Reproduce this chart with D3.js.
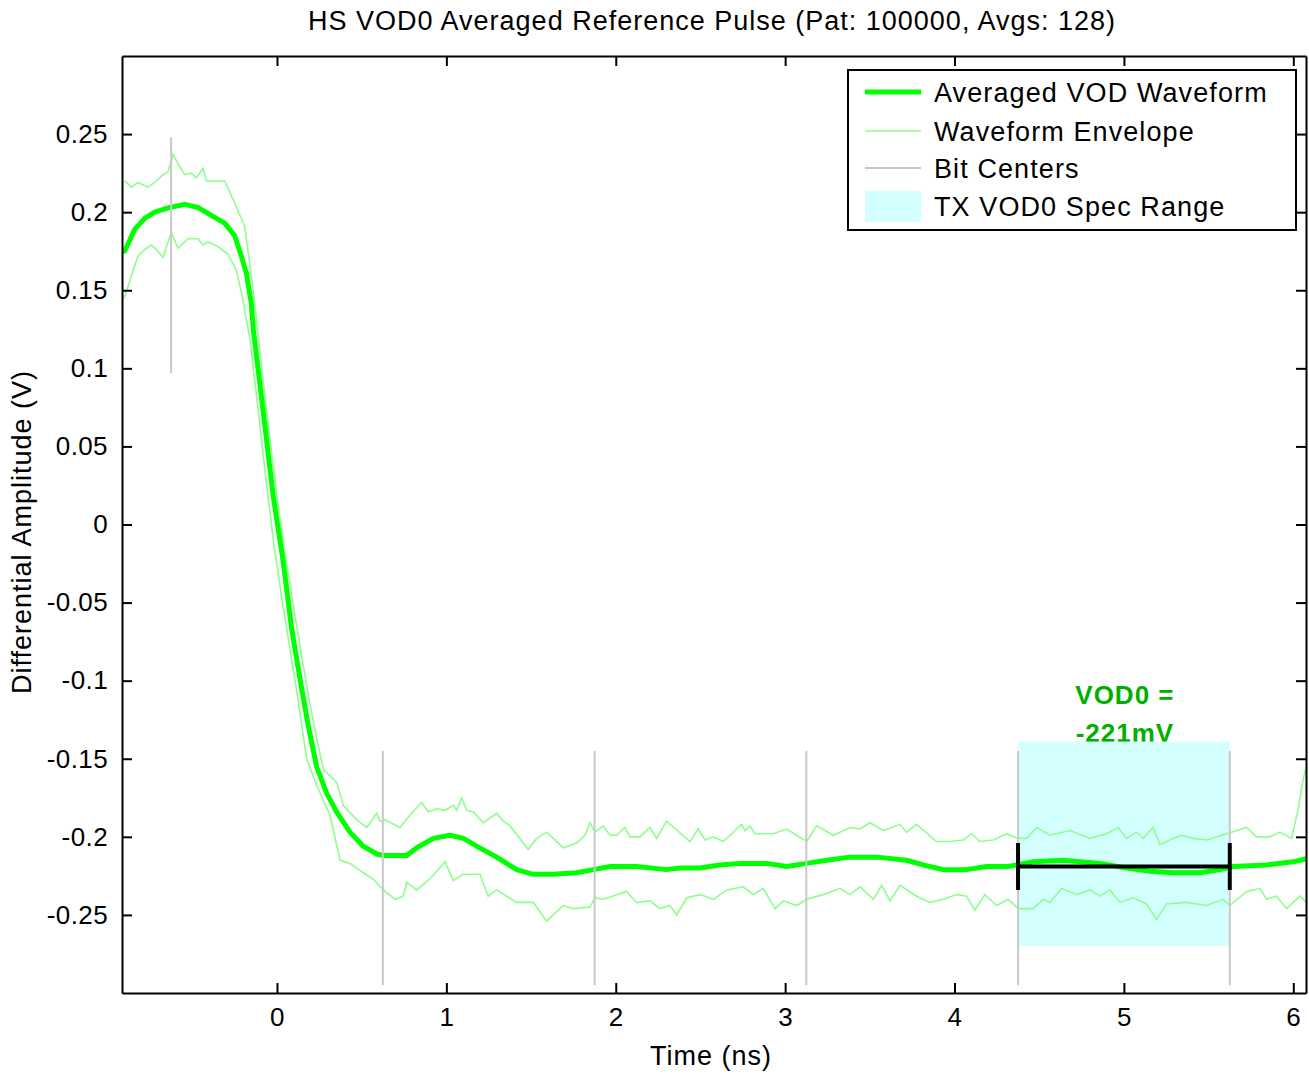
<!DOCTYPE html>
<html>
<head>
<meta charset="utf-8">
<script src="https://cdn.jsdelivr.net/npm/d3@7"></script>
<style>
body { margin: 0; background: #fff; }
text { font-family: "Liberation Sans", Arial, sans-serif; fill: #000; }
</style>
</head>
<body>
<script>
var width = 1309, height = 1076;
var margin = {top: 56, right: 3, bottom: 83, left: 122};

// averaged waveform [time ns, volts]
var avgWave = [[-0.915,0.175],[-0.899,0.175],[-0.840,0.189],[-0.781,0.196],[-0.722,0.200],[-0.633,0.203],
[-0.545,0.205],[-0.466,0.203],[-0.388,0.198],[-0.309,0.193],[-0.250,0.185],[-0.211,0.172],[-0.181,0.161],
[-0.152,0.142],[-0.140,0.125],[-0.081,0.072],[-0.022,0.018],[0.037,-0.024],[0.087,-0.067],[0.136,-0.099],
[0.185,-0.129],[0.234,-0.155],[0.293,-0.172],[0.352,-0.184],[0.431,-0.197],[0.509,-0.206],[0.589,-0.211],
[0.627,-0.212],[0.766,-0.212],[0.825,-0.207],[0.923,-0.201],[1.021,-0.199],[1.100,-0.201],[1.179,-0.206],
[1.297,-0.213],[1.415,-0.221],[1.513,-0.224],[1.631,-0.224],[1.769,-0.223],[1.867,-0.221],[1.966,-0.219],
[2.123,-0.219],[2.300,-0.221],[2.379,-0.220],[2.497,-0.220],[2.615,-0.218],[2.733,-0.217],[2.891,-0.217],
[3.009,-0.219],[3.127,-0.217],[3.245,-0.215],[3.383,-0.213],[3.540,-0.213],[3.717,-0.215],[3.815,-0.218],
[3.933,-0.221],[4.071,-0.221],[4.189,-0.219],[4.317,-0.219],[4.465,-0.216],[4.642,-0.215],[4.858,-0.217],
[5.016,-0.220],[5.154,-0.222],[5.291,-0.223],[5.449,-0.223],[5.567,-0.221],[5.645,-0.219],[5.842,-0.218],
[5.999,-0.216],[6.079,-0.214]];

var envUpper = [[-0.899,0.220],[-0.860,0.216],[-0.821,0.219],[-0.762,0.216],[-0.722,0.219],[-0.683,0.223],
[-0.643,0.226],[-0.614,0.237],[-0.584,0.231],[-0.545,0.224],[-0.506,0.225],[-0.476,0.222],[-0.437,0.228],
[-0.417,0.220],[-0.309,0.220],[-0.250,0.206],[-0.191,0.191],[-0.161,0.167],[-0.132,0.142],[-0.089,0.099],
[-0.041,0.054],[0.006,0.013],[0.053,-0.022],[0.100,-0.054],[0.148,-0.086],[0.195,-0.115],[0.234,-0.137],
[0.274,-0.157],[0.352,-0.165],[0.392,-0.180],[0.470,-0.189],[0.530,-0.194],[0.589,-0.185],[0.608,-0.190],
[0.638,-0.189],[0.726,-0.194],[0.785,-0.186],[0.854,-0.178],[0.893,-0.184],[0.943,-0.182],[0.992,-0.183],
[1.041,-0.180],[1.061,-0.183],[1.090,-0.175],[1.120,-0.183],[1.159,-0.184],[1.218,-0.191],[1.297,-0.185],
[1.336,-0.190],[1.375,-0.193],[1.434,-0.201],[1.483,-0.208],[1.533,-0.201],[1.592,-0.197],[1.631,-0.201],
[1.690,-0.207],[1.769,-0.204],[1.818,-0.199],[1.848,-0.191],[1.877,-0.197],[1.926,-0.193],[1.966,-0.199],
[2.005,-0.199],[2.054,-0.194],[2.084,-0.200],[2.143,-0.200],[2.202,-0.194],[2.241,-0.201],[2.300,-0.190],
[2.438,-0.203],[2.487,-0.195],[2.527,-0.202],[2.576,-0.200],[2.635,-0.203],[2.684,-0.198],[2.743,-0.192],
[2.763,-0.196],[2.792,-0.193],[2.822,-0.198],[2.930,-0.198],[3.009,-0.195],[3.068,-0.199],[3.127,-0.203],
[3.186,-0.193],[3.284,-0.199],[3.383,-0.194],[3.442,-0.195],[3.501,-0.191],[3.580,-0.196],[3.678,-0.192],
[3.717,-0.197],[3.776,-0.192],[3.894,-0.203],[3.973,-0.203],[4.051,-0.202],[4.101,-0.198],[4.150,-0.203],
[4.228,-0.202],[4.308,-0.198],[4.376,-0.201],[4.426,-0.201],[4.485,-0.194],[4.563,-0.199],[4.681,-0.196],
[4.799,-0.201],[4.898,-0.198],[4.966,-0.194],[5.016,-0.201],[5.075,-0.197],[5.114,-0.201],[5.173,-0.194],
[5.213,-0.205],[5.291,-0.201],[5.341,-0.199],[5.409,-0.201],[5.488,-0.202],[5.606,-0.198],[5.724,-0.194],
[5.783,-0.200],[5.862,-0.200],[5.921,-0.197],[5.990,-0.201],[6.029,-0.182],[6.058,-0.163],[6.088,-0.150]];

var envLower = [[-0.915,0.144],[-0.899,0.146],[-0.860,0.159],[-0.821,0.172],[-0.781,0.176],[-0.742,0.179],
[-0.712,0.176],[-0.673,0.171],[-0.624,0.187],[-0.584,0.177],[-0.525,0.183],[-0.466,0.183],[-0.437,0.179],
[-0.407,0.181],[-0.348,0.178],[-0.289,0.173],[-0.240,0.163],[-0.201,0.144],[-0.159,0.118],[-0.112,0.074],
[-0.065,0.029],[-0.018,-0.013],[0.030,-0.048],[0.077,-0.080],[0.124,-0.112],[0.175,-0.150],[0.234,-0.167],
[0.313,-0.186],[0.372,-0.215],[0.431,-0.217],[0.509,-0.223],[0.568,-0.227],[0.628,-0.234],[0.697,-0.240],
[0.746,-0.238],[0.766,-0.229],[0.825,-0.234],[0.903,-0.227],[0.992,-0.216],[1.041,-0.228],[1.100,-0.224],
[1.198,-0.224],[1.247,-0.238],[1.297,-0.234],[1.415,-0.242],[1.513,-0.242],[1.592,-0.254],[1.690,-0.244],
[1.749,-0.246],[1.848,-0.245],[1.877,-0.239],[1.926,-0.240],[2.064,-0.235],[2.123,-0.242],[2.202,-0.241],
[2.261,-0.246],[2.320,-0.244],[2.360,-0.250],[2.419,-0.239],[2.497,-0.237],[2.576,-0.240],[2.655,-0.234],
[2.753,-0.232],[2.812,-0.237],[2.871,-0.233],[2.940,-0.246],[2.989,-0.241],[3.068,-0.244],[3.127,-0.240],
[3.225,-0.237],[3.324,-0.233],[3.383,-0.237],[3.442,-0.232],[3.521,-0.240],[3.570,-0.231],[3.619,-0.241],
[3.678,-0.231],[3.776,-0.238],[3.855,-0.242],[3.933,-0.240],[4.012,-0.237],[4.071,-0.238],[4.120,-0.247],
[4.179,-0.237],[4.249,-0.244],[4.317,-0.240],[4.376,-0.246],[4.465,-0.246],[4.524,-0.240],[4.563,-0.242],
[4.632,-0.233],[4.721,-0.237],[4.799,-0.234],[4.858,-0.238],[4.917,-0.234],[4.976,-0.242],[5.055,-0.239],
[5.134,-0.243],[5.193,-0.253],[5.252,-0.243],[5.370,-0.242],[5.488,-0.244],[5.586,-0.240],[5.626,-0.244],
[5.724,-0.235],[5.803,-0.233],[5.842,-0.240],[5.901,-0.238],[5.960,-0.246],[6.039,-0.238],[6.079,-0.242]];

// bit centre markers [time, low, high]
var bitCenters = [[-0.625,0.097,0.248],[0.625,-0.295,-0.145],[1.875,-0.295,-0.145],
[3.125,-0.295,-0.145],[4.375,-0.295,-0.145],[5.625,-0.295,-0.145]];

var specRange = {t0: 4.375, t1: 5.625, vLow: -0.270, vHigh: -0.139};
var vodBar = {t0: 4.375, t1: 5.625, v: -0.219, cap: 0.015};
var vodLabel = ["VOD0 =", "-221mV"];

var xTicks = [0, 1, 2, 3, 4, 5, 6];
var xTickLabels = ["0", "1", "2", "3", "4", "5", "6"];
var yTicks = [0.25, 0.2, 0.15, 0.1, 0.05, 0, -0.05, -0.1, -0.15, -0.2, -0.25];
var yTickLabels = ["0.25", "0.2", "0.15", "0.1", "0.05", "0", "-0.05", "-0.1", "-0.15", "-0.2", "-0.25"];

var legendNames = ["Averaged VOD Waveform", "Waveform Envelope", "Bit Centers", "TX VOD0 Spec Range"];

var colMain = "#00ff00", colEnv = "#8cff8c", colBit = "#c8c8c8", colSpec = "#d4ffff", colLabel = "#00b000";

var w = width - margin.left - margin.right;
var h = height - margin.top - margin.bottom;

var svg = d3.select("body").append("svg")
.attr("width", width)
.attr("height", height);

var xScale = d3.scaleLinear().domain([-0.915, 6.075]).range([0, w]);
var yScale = d3.scaleLinear().domain([-0.3, 0.3]).range([h, 0]);

svg.append("defs").append("clipPath").attr("id", "clip")
.append("rect").attr("width", w).attr("height", h);

var g = svg.append("g").attr("transform", "translate(" + margin.left + "," + margin.top + ")");
var plot = g.append("g").attr("clip-path", "url(#clip)");

// label first, spec patch covers its lower edge like the original
var lbl = plot.append("text")
.attr("text-anchor", "middle")
.style("font-weight", "bold")
.style("font-size", "26px")
.style("letter-spacing", "1px")
.style("fill", colLabel);
lbl.selectAll("tspan").data(vodLabel).enter().append("tspan")
.attr("x", xScale((specRange.t0 + specRange.t1) / 2) + 1)
.attr("y", function(d, i) { return yScale(specRange.vHigh) - 38 + i * 38; })
.text(function(d) { return d; });

plot.append("rect")
.attr("x", xScale(specRange.t0))
.attr("y", yScale(specRange.vHigh))
.attr("width", xScale(specRange.t1) - xScale(specRange.t0))
.attr("height", yScale(specRange.vLow) - yScale(specRange.vHigh))
.attr("fill", colSpec);

var line = d3.line()
.x(function(d) { return xScale(d[0]); })
.y(function(d) { return yScale(d[1]); });

plot.selectAll(".env")
.data([envUpper, envLower])
.enter().append("path")
.attr("class", "env")
.attr("d", line)
.attr("fill", "none")
.attr("stroke", colEnv)
.attr("stroke-width", 1.6);

plot.append("path")
.attr("d", line(avgWave))
.attr("fill", "none")
.attr("stroke", colMain)
.attr("stroke-width", 5)
.attr("stroke-linejoin", "round");

plot.selectAll(".bit")
.data(bitCenters)
.enter().append("line")
.attr("x1", function(d) { return xScale(d[0]); })
.attr("x2", function(d) { return xScale(d[0]); })
.attr("y1", function(d) { return yScale(d[1]); })
.attr("y2", function(d) { return yScale(d[2]); })
.attr("stroke", colBit)
.attr("stroke-width", 2);

// VOD0 measurement bar
var bar = plot.append("g").attr("stroke", "#000").attr("stroke-width", 4);
bar.append("line")
.attr("x1", xScale(vodBar.t0)).attr("x2", xScale(vodBar.t1))
.attr("y1", yScale(vodBar.v)).attr("y2", yScale(vodBar.v));
[vodBar.t0, vodBar.t1].forEach(function(t) {
  bar.append("line")
  .attr("x1", xScale(t)).attr("x2", xScale(t))
  .attr("y1", yScale(vodBar.v + vodBar.cap)).attr("y2", yScale(vodBar.v - vodBar.cap));
});

// axes, ticks pointing inward on all four sides
var xAxis = d3.axisBottom(xScale).tickValues(xTicks)
.tickFormat(function(d, i) { return xTickLabels[i]; })
.tickSizeInner(-10).tickSizeOuter(0).tickPadding(15);
var yAxis = d3.axisLeft(yScale).tickValues(yTicks)
.tickFormat(function(d, i) { return yTickLabels[i]; })
.tickSizeInner(-10).tickSizeOuter(0).tickPadding(14);

var axes = [
  g.append("g").attr("transform", "translate(0," + h + ")").call(xAxis),
  g.append("g").call(yAxis),
  g.append("g").call(d3.axisTop(xScale).tickValues(xTicks).tickFormat("").tickSizeInner(-10).tickSizeOuter(0)),
  g.append("g").attr("transform", "translate(" + w + ",0)")
   .call(d3.axisRight(yScale).tickValues(yTicks).tickFormat("").tickSizeInner(-10).tickSizeOuter(0))
];
axes.forEach(function(a) {
  a.selectAll("path, line").attr("stroke", "#000").attr("stroke-width", 2);
  a.selectAll("text").style("font-size", "26px").style("letter-spacing", "0.4px")
  .style("font-family", "'Liberation Sans', Arial, sans-serif").attr("fill", "#000");
});

// titles
svg.append("text")
.attr("x", 712).attr("y", 30)
.attr("text-anchor", "middle")
.style("font-size", "27px")
.style("letter-spacing", "1px")
.text("HS VOD0 Averaged Reference Pulse (Pat: 100000, Avgs: 128)");

svg.append("text")
.attr("x", 711).attr("y", 1065)
.attr("text-anchor", "middle")
.style("font-size", "27px")
.style("letter-spacing", "1px")
.text("Time (ns)");

svg.append("text")
.attr("transform", "translate(31,532) rotate(-90)")
.attr("text-anchor", "middle")
.style("font-size", "27px")
.style("letter-spacing", "1px")
.text("Differential Amplitude (V)");

// legend
var leg = svg.append("g").attr("transform", "translate(848,70)");
leg.append("rect")
.attr("width", 448).attr("height", 160)
.attr("fill", "#fff").attr("stroke", "#000").attr("stroke-width", 2);

var rowY = [22, 61, 98, 136];
var legItems = leg.selectAll(".item")
.data(legendNames)
.enter().append("g")
.attr("transform", function(d, i) { return "translate(0," + rowY[i] + ")"; });

legItems.each(function(d, i) {
  var it = d3.select(this);
  if (i == 3) {
    it.append("rect").attr("x", 17).attr("y", -15).attr("width", 56).attr("height", 31).attr("fill", colSpec);
  } else {
    it.append("line").attr("x1", 17).attr("x2", 73).attr("y1", 0).attr("y2", 0)
    .attr("stroke", [colMain, colEnv, colBit][i])
    .attr("stroke-width", [5, 1.6, 2][i]);
  }
  it.append("text").attr("x", 86).attr("y", 10)
  .style("font-size", "27px")
  .style("letter-spacing", "1.1px")
  .text(d);
});
</script>
</body>
</html>
